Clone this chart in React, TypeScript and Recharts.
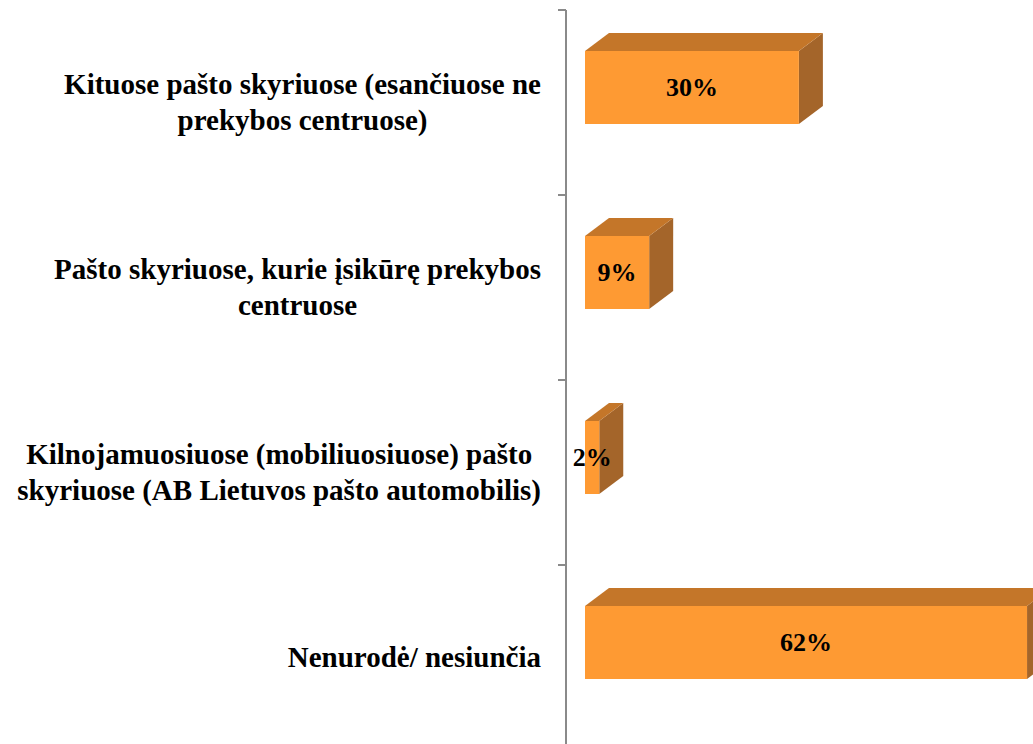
import React from "react";
import { BarChart, Bar, XAxis, YAxis, LabelList } from "recharts";

const categories = [
  "Kituose pašto skyriuose (esančiuose ne prekybos centruose)",
  "Pašto skyriuose, kurie įsikūrę prekybos centruose",
  "Kilnojamuosiuose (mobiliuosiuose) pašto skyriuose (AB Lietuvos pašto automobilis)",
  "Nenurodė/ nesiunčia",
];
const labelLines = [
  ["Kituose pašto skyriuose (esančiuose ne", "prekybos centruose)"],
  ["Pašto skyriuose, kurie įsikūrę prekybos", "centruose"],
  ["Kilnojamuosiuose (mobiliuosiuose) pašto", "skyriuose (AB Lietuvos pašto automobilis)"],
  ["Nenurodė/ nesiunčia"],
];
const values = [30, 9, 2, 62];

const data = categories.map((c, i) => ({ name: c, value: values[i] }));

const FONT = '"Liberation Serif", "Times New Roman", serif';
const CAT_SIZE = 29;
const VAL_SIZE = 26;
const FRONT = "#FE9A33";
const TOP = "#C47629";
const SIDE = "#A4652A";
const AXIS = "#8A8A8A";
const TICK_MARGIN = 25;
const TICK_LEN = 8;
const SHIFT_X = 19;
const SHIFT_Y = -15;
const DX = 24;
const DY = 18;

let ctx: CanvasRenderingContext2D | null = null;
function measure(t: string): number {
  if (!ctx) {
    ctx = document.createElement("canvas").getContext("2d");
  }
  if (!ctx) return t.length * CAT_SIZE * 0.5;
  ctx.font = `bold ${CAT_SIZE}px "Liberation Serif"`;
  return ctx.measureText(t).width;
}

const CatTick = (props: any) => {
  const { x, y, index, payload } = props;
  const lines = labelLines[index] || [String(payload?.value ?? "")];
  const widths = lines.map(measure);
  const maxW = Math.max(...widths);
  const cx = x - maxW / 2;
  const lh = 36;
  const startY = y - ((lines.length - 1) * lh) / 2 + CAT_SIZE * 0.33;
  const axisX = x + TICK_MARGIN;
  const half = payload && typeof payload.offset === "number" ? payload.offset : 0;
  const isLast = index === labelLines.length - 1;
  return (
    <g>
      {half > 0 && (
        <line
          x1={axisX - TICK_LEN}
          x2={axisX}
          y1={y - half}
          y2={y - half}
          stroke={AXIS}
          strokeWidth={2}
        />
      )}
      {half > 0 && isLast && (
        <line
          x1={axisX - TICK_LEN}
          x2={axisX}
          y1={y + half}
          y2={y + half}
          stroke={AXIS}
          strokeWidth={2}
        />
      )}
      {lines.map((l: string, i: number) => (
        <text
          key={i}
          x={lines.length === 1 ? x : cx}
          y={startY + i * lh}
          textAnchor={lines.length === 1 ? "end" : "middle"}
          fontFamily={FONT}
          fontWeight="bold"
          fontSize={CAT_SIZE}
          fill="#000"
        >
          {l}
        </text>
      ))}
    </g>
  );
};

const Box3D = (props: any) => {
  const { x, y, width, height } = props;
  if (width == null || height == null) return null;
  const fx = x + SHIFT_X;
  const fy = y + SHIFT_Y;
  const w = width;
  const h = height;
  const top = `${fx},${fy} ${fx + DX},${fy - DY} ${fx + w + DX},${fy - DY} ${fx + w},${fy}`;
  const side = `${fx + w},${fy} ${fx + w + DX},${fy - DY} ${fx + w + DX},${fy + h - DY} ${fx + w},${fy + h}`;
  return (
    <g>
      <polygon points={side} fill={SIDE} />
      <polygon points={top} fill={TOP} />
      <rect x={fx} y={fy} width={w} height={h} fill={FRONT} />
    </g>
  );
};

const ValueLabel = (props: any) => {
  const { x, y, width, height, value } = props;
  const cx = x + SHIFT_X + width / 2;
  const cy = y + SHIFT_Y + height / 2;
  return (
    <text
      x={cx}
      y={cy + VAL_SIZE * 0.34}
      textAnchor="middle"
      fontFamily={FONT}
      fontWeight="bold"
      fontSize={VAL_SIZE}
      fill="#000"
    >
      {`${value}%`}
    </text>
  );
};

export default function App() {
  return (
    <div
      style={{
        position: "absolute",
        left: 0,
        top: 0,
        width: 1033,
        height: 744,
        overflow: "hidden",
        background: "#fff",
      }}
    >
      <BarChart
        width={1033}
        height={750}
        data={data}
        layout="vertical"
        margin={{ top: 10, right: 0, bottom: 0, left: 0 }}
      >
        <XAxis type="number" domain={[0, 65.5]} hide allowDataOverflow />
        <YAxis
          type="category"
          dataKey="name"
          width={566}
          axisLine={{ stroke: AXIS, strokeWidth: 2 }}
          tickLine={false}
          tickSize={0}
          tickMargin={TICK_MARGIN}
          tick={<CatTick />}
          interval={0}
        />
        <Bar
          dataKey="value"
          barSize={73}
          shape={<Box3D />}
          isAnimationActive={false}
        >
          <LabelList dataKey="value" content={<ValueLabel />} />
        </Bar>
      </BarChart>
    </div>
  );
}
